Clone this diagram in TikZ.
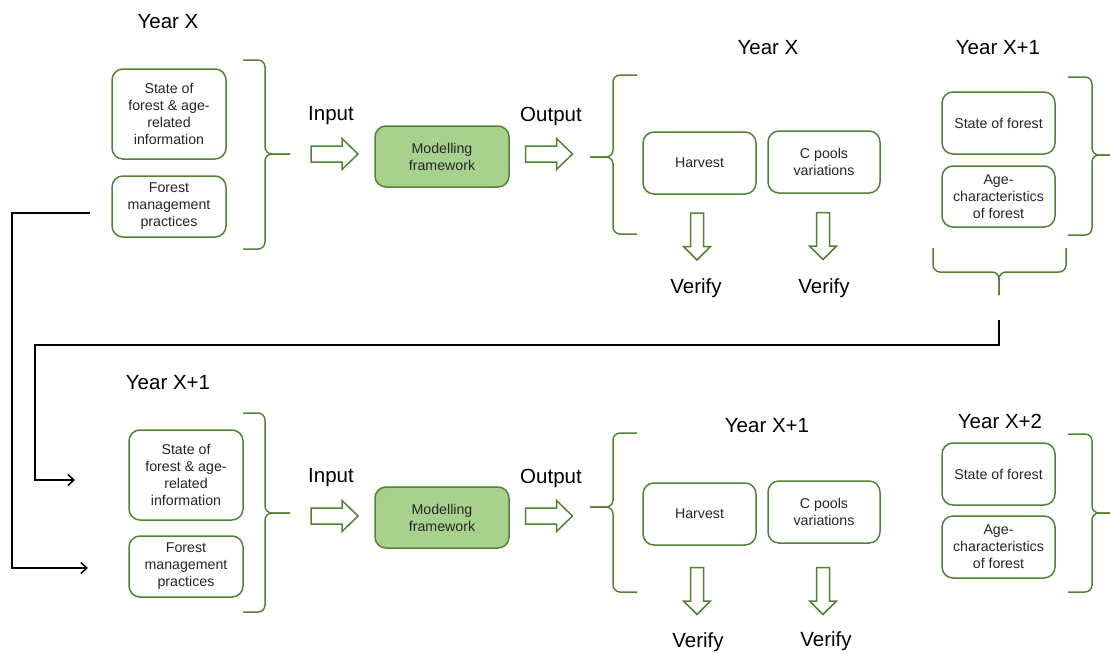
\documentclass[tikz,border=0pt]{standalone}
\usepackage{fontspec}
\setmainfont{Liberation Sans}
\usetikzlibrary{arrows.meta}
\definecolor{dkgreen}{HTML}{548235}
\definecolor{ltgreen}{HTML}{A9D18E}
\tikzset{
  box/.style={draw=dkgreen, line width=1.5pt, rounded corners=11pt, fill=white,
    align=center, inner sep=0pt, font=\fontsize{14.2}{17}\selectfont, text=black!85},
  mfbox/.style={box, fill=ltgreen},
  lbl/.style={font=\fontsize{20.5}{24}\selectfont, inner sep=0pt, yshift=-2pt},
  brc/.style={draw=dkgreen, line width=1.5pt, rounded corners=7pt},
  blockarrow/.style={draw=dkgreen, line width=1.5pt, fill=white, line join=miter},
  rarrow/.pic={\path[blockarrow] (-23.5,-8) -- (7.5,-8) -- (7.5,-15.5) -- (23.5,0) -- (7.5,15.5) -- (7.5,8) -- (-23.5,8) -- cycle;},
  darrow/.pic={\path[blockarrow] (-6.5,-23.5) -- (-6.5,10) -- (-13.5,10) -- (0,23.5) -- (13.5,10) -- (6.5,10) -- (6.5,-23.5) -- cycle;},
  conn/.style={draw=black, line width=1.5pt, -{Straight Barb[length=6pt,width=11pt,line width=1.5pt]}}
}
\begin{document}
\begin{tikzpicture}[x=1pt,y=-1pt]
\useasboundingbox (0,0) rectangle (1110,653);

% ---------------- top row ----------------
\node[lbl] (yx1) at (168,20) {Year X};
\node[box, minimum width=114pt, minimum height=90pt] (t1) at (169,114) {State of\\forest \& age-\\related\\information};
\node[box, minimum width=114pt, minimum height=61pt] (t2) at (169,206.5) {Forest\\management\\practices};
\draw[brc] (243,60) -- (265,60) -- (265,154) -- (290,154);
\draw[brc] (243,249) -- (265,249) -- (265,154) -- (290,154);
\node[lbl] (tin) at (331,114) {Input};
\pic (tia) at (334.5,154) {rarrow};
\node[mfbox, minimum width=134pt, minimum height=61pt] (tmf) at (442,156.5) {Modelling\\framework};
\node[lbl] (tout) at (551,114) {Output};
\pic (toa) at (549,154) {rarrow};
\draw[brc] (637,75) -- (613,75) -- (613,157) -- (590,157);
\draw[brc] (637,234) -- (613,234) -- (613,157) -- (590,157);
\node[lbl] (yx2) at (768,46) {Year X};
\node[box, minimum width=113pt, minimum height=62pt] (th) at (699.5,163) {Harvest};
\node[box, minimum width=112pt, minimum height=62pt] (tc) at (824,162) {C pools\\variations};
\pic (tva) at (697,236.5) {darrow};
\pic (tvb) at (823,236) {darrow};
\node[lbl] (tv1) at (696,286) {Verify};
\node[lbl] (tv2) at (824,286) {Verify};
\node[lbl] (yx3) at (998,46) {Year X+1};
\node[box, minimum width=113pt, minimum height=62pt] (tsf) at (998.5,123) {State of forest};
\node[box, minimum width=113pt, minimum height=61pt] (tag) at (998.5,196.5) {Age-\\characteristics\\of forest};
\draw[brc] (1068,77) -- (1092,77) -- (1092,155) -- (1112,155);
\draw[brc] (1068,235) -- (1092,235) -- (1092,155) -- (1112,155);
\draw[brc] (933,248) -- (933,272) -- (999,272) -- (999,295);
\draw[brc] (1066,248) -- (1066,272) -- (999,272) -- (999,295);

% ---------------- bottom row ----------------
\node[lbl] (yb1) at (168,381) {Year X+1};
\node[box, minimum width=114pt, minimum height=90pt] (b1) at (186,475) {State of\\forest \& age-\\related\\information};
\node[box, minimum width=114pt, minimum height=61pt] (b2) at (186,566.5) {Forest\\management\\practices};
\draw[brc] (243,413) -- (265,413) -- (265,513) -- (290,513);
\draw[brc] (243,612) -- (265,612) -- (265,513) -- (290,513);
\node[lbl] (bin) at (331,476) {Input};
\pic (bia) at (334.5,516) {rarrow};
\node[mfbox, minimum width=134pt, minimum height=61pt] (bmf) at (442,517.5) {Modelling\\framework};
\node[lbl] (bout) at (551,476) {Output};
\pic (boa) at (549,516) {rarrow};
\draw[brc] (637,433) -- (613,433) -- (613,507) -- (590,507);
\draw[brc] (637,592) -- (613,592) -- (613,507) -- (590,507);
\node[lbl] (yb2) at (767,424) {Year X+1};
\node[box, minimum width=113pt, minimum height=62pt] (bh) at (699.5,514) {Harvest};
\node[box, minimum width=112pt, minimum height=62pt] (bc) at (824,512) {C pools\\variations};
\pic (bva) at (697,591) {darrow};
\pic (bvb) at (823,591) {darrow};
\node[lbl] (bv1) at (698,640) {Verify};
\node[lbl] (bv2) at (826,639) {Verify};
\node[lbl] (yb3) at (1000,419) {Year X+2};
\node[box, minimum width=113pt, minimum height=62pt] (bsf) at (998.5,474) {State of forest};
\node[box, minimum width=113pt, minimum height=62pt] (bag) at (998.5,547) {Age-\\characteristics\\of forest};
\draw[brc] (1068,434) -- (1092,434) -- (1092,513) -- (1112,513);
\draw[brc] (1068,592) -- (1092,592) -- (1092,513) -- (1112,513);

% ---------------- connectors ----------------
\coordinate (s1) at (90,213);
\coordinate (e1) at (88,568);
\coordinate (s2) at (999,320);
\coordinate (e2) at (75,480);
\draw[conn] (s1) -- (12,213) |- (e1);
\draw[conn] (s2) -- (999,345) -- (35,345) |- (e2);
\end{tikzpicture}
\end{document}
